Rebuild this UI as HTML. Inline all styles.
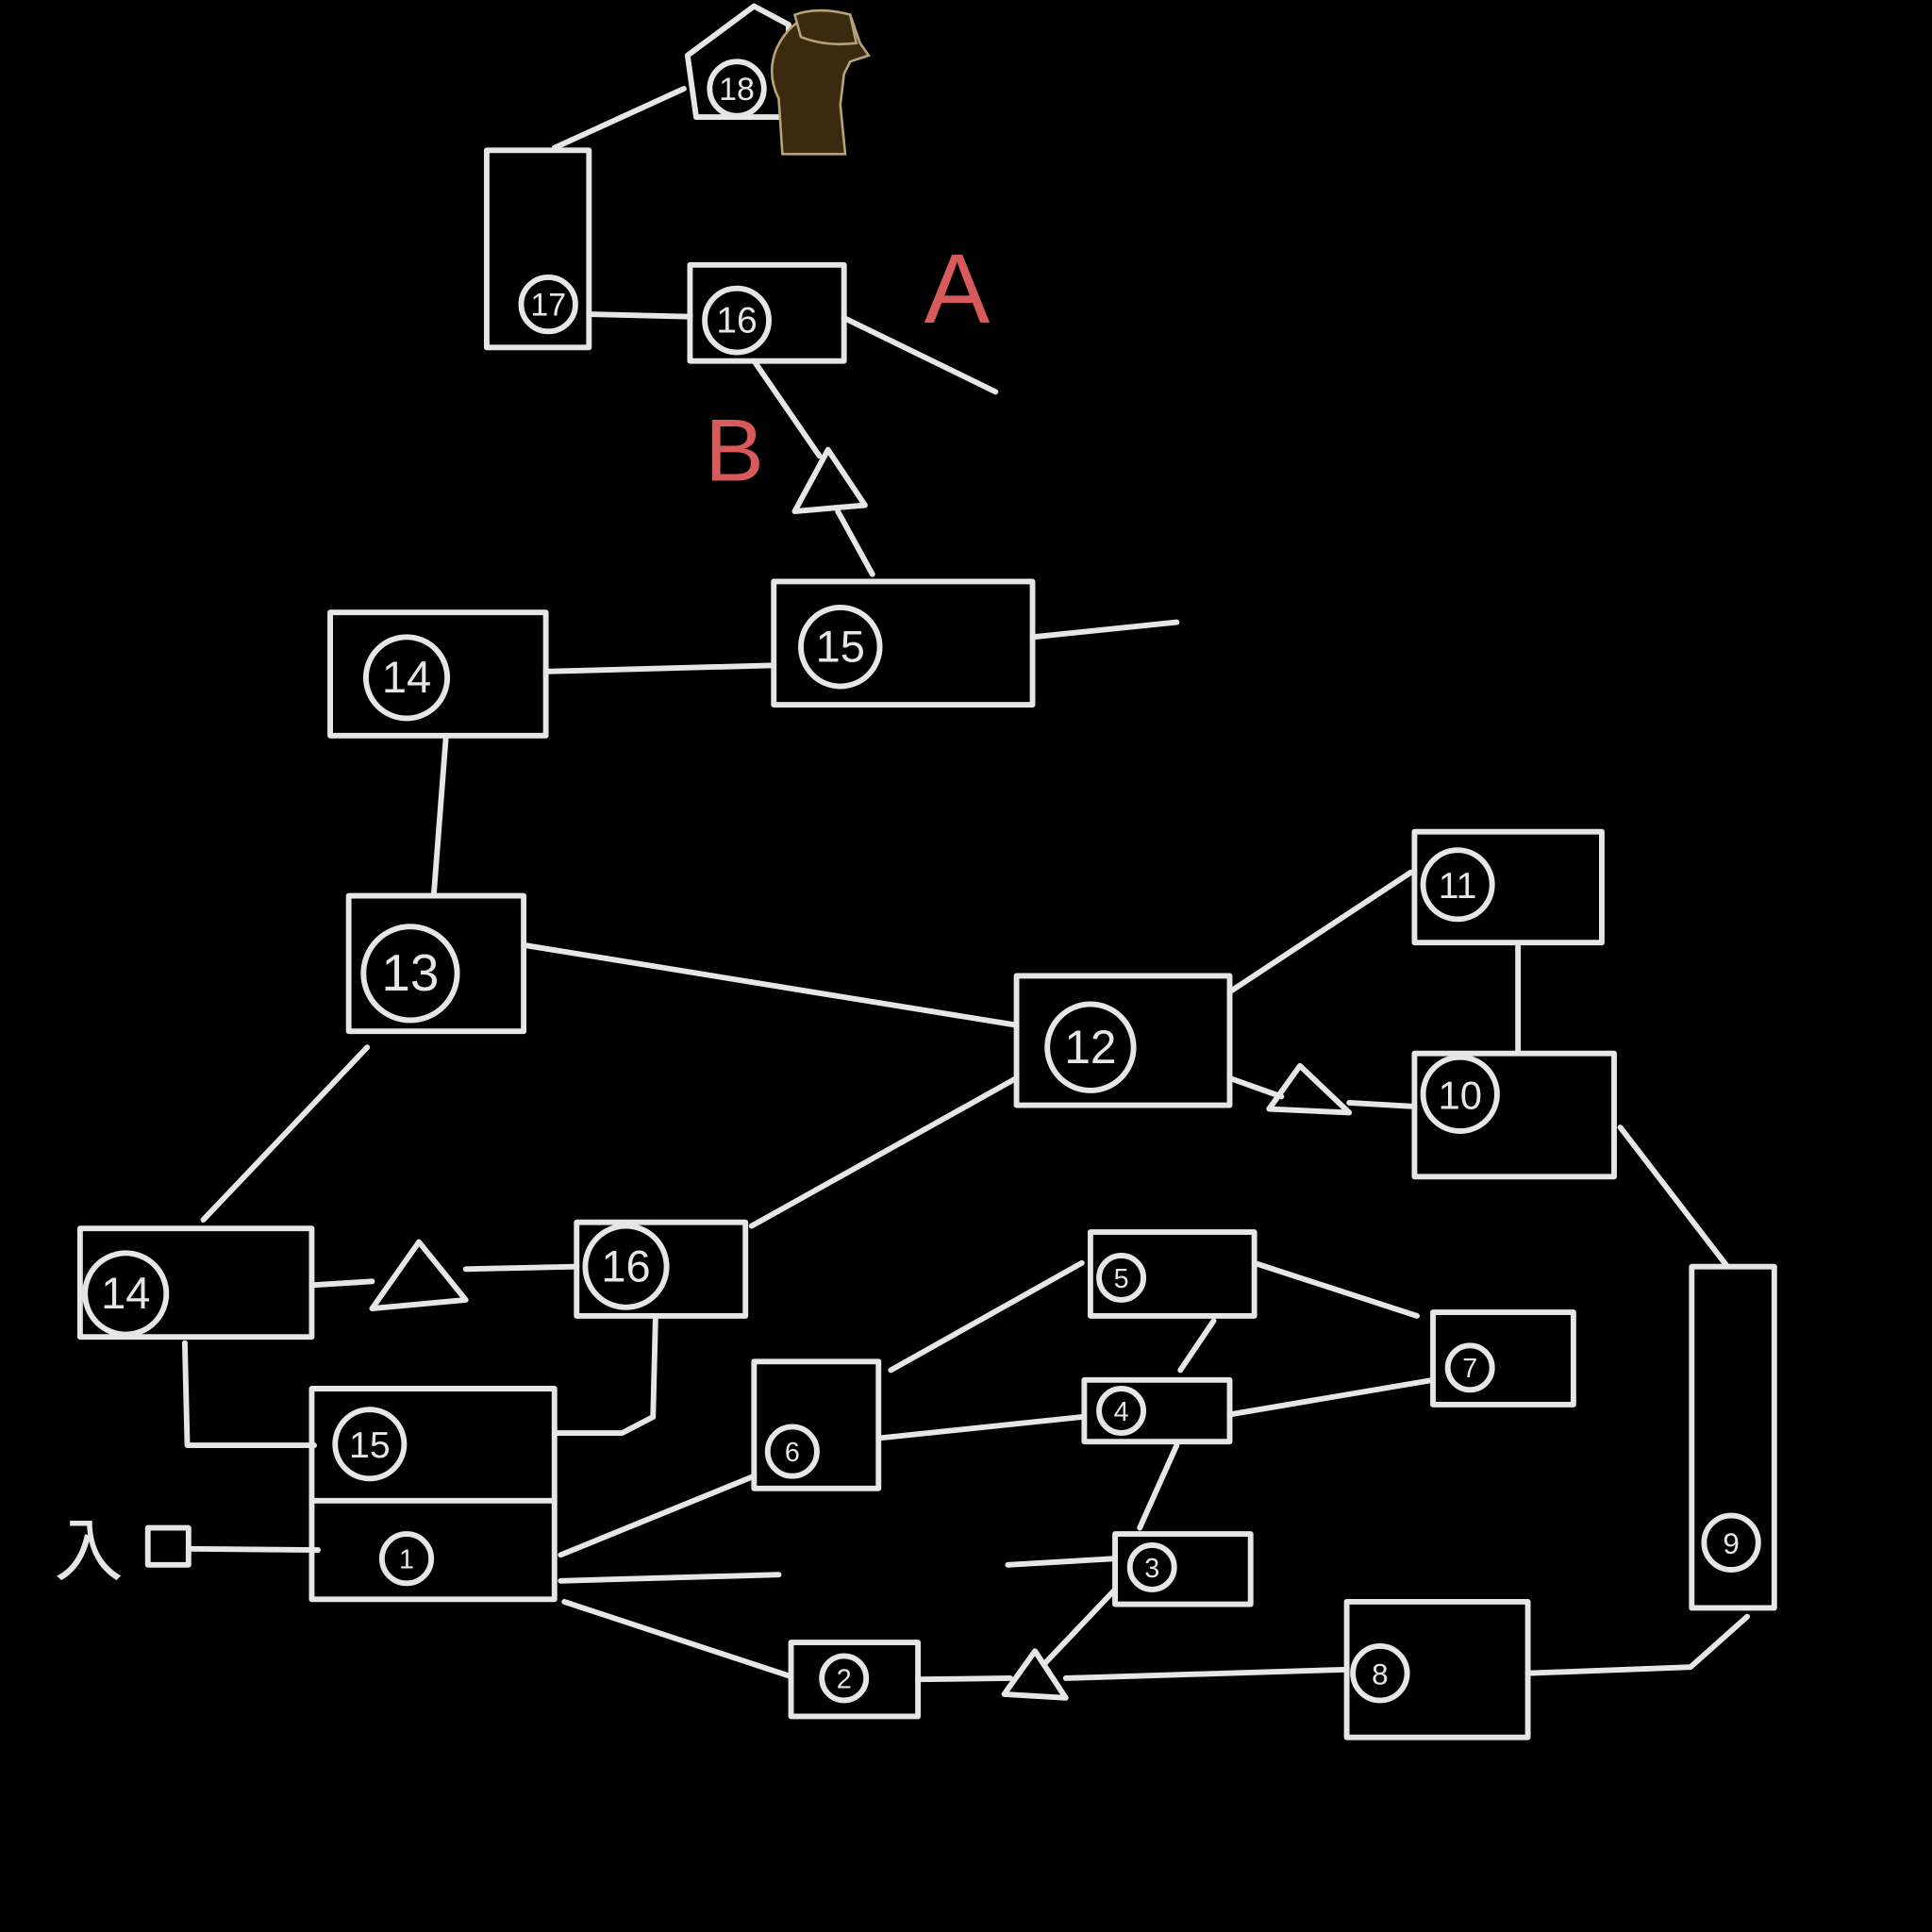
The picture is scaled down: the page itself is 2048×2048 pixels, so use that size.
<!DOCTYPE html>
<html><head><meta charset="utf-8"><style>
html,body{margin:0;padding:0;background:#000;}
svg{display:block;}
</style></head><body>
<svg width="2048" height="2048" viewBox="0 0 1568 1568" xmlns="http://www.w3.org/2000/svg">
<rect width="1568" height="1568" fill="#000"/>
<g fill="none" stroke="#e6e6e6" stroke-width="4.5" stroke-linecap="round" stroke-linejoin="round">
<!-- 18 -->
<polygon points="558,45 612,5 640,20 640,95 565,95"/>
<circle cx="598" cy="72" r="22"/>
<line x1="450" y1="120" x2="555" y2="72"/>
<!-- 17 -->
<rect x="395" y="122" width="83" height="160"/>
<circle cx="445" cy="247" r="22"/>
<line x1="478" y1="255" x2="560" y2="257"/>
<!-- 16 top -->
<rect x="560" y="215" width="125" height="78"/>
<circle cx="598" cy="260" r="26"/>
<line x1="685" y1="258" x2="808" y2="318"/>
<line x1="612" y1="293" x2="665" y2="370"/>
<polygon points="672,365 645,415 702,410"/>
<line x1="680" y1="415" x2="708" y2="466"/>
<!-- 15 top -->
<rect x="628" y="472" width="210" height="100"/>
<circle cx="682" cy="525" r="32"/>
<line x1="838" y1="517" x2="955" y2="505"/>
<!-- 14 top -->
<rect x="268" y="497" width="175" height="100"/>
<circle cx="330" cy="550" r="33"/>
<line x1="443" y1="545" x2="628" y2="540"/>
<line x1="362" y1="597" x2="352" y2="727"/>
<!-- 13 -->
<rect x="283" y="727" width="142" height="110"/>
<circle cx="333" cy="790" r="38"/>
<line x1="425" y1="767" x2="825" y2="832"/>
<!-- 12 -->
<rect x="825" y="792" width="173" height="105"/>
<circle cx="885" cy="850" r="35"/>
<!-- 11 -->
<rect x="1148" y="675" width="152" height="90"/>
<circle cx="1183" cy="718" r="28"/>
<line x1="998" y1="805" x2="1145" y2="708"/>
<line x1="1232" y1="768" x2="1232" y2="852"/>
<!-- 10 -->
<rect x="1148" y="855" width="162" height="100"/>
<circle cx="1185" cy="888" r="30"/>
<line x1="998" y1="875" x2="1040" y2="890"/>
<polygon points="1055,865 1030,900 1095,903"/>
<line x1="1095" y1="895" x2="1148" y2="898"/>
<line x1="1315" y1="915" x2="1402" y2="1028"/>
<!-- 9 -->
<rect x="1373" y="1028" width="67" height="277"/>
<circle cx="1405" cy="1252" r="22"/>
<polyline points="1418,1312 1372,1353 1240,1358"/>
<!-- 8 -->
<rect x="1093" y="1300" width="147" height="110"/>
<circle cx="1120" cy="1358" r="22"/>
<!-- 14b -->
<line x1="298" y1="850" x2="165" y2="990"/>
<rect x="65" y="997" width="188" height="88"/>
<circle cx="102" cy="1050" r="33"/>
<line x1="253" y1="1043" x2="302" y2="1040"/>
<polygon points="340,1008 302,1062 378,1055"/>
<line x1="378" y1="1030" x2="468" y2="1028"/>
<!-- 16b -->
<rect x="468" y="992" width="137" height="76"/>
<circle cx="508" cy="1028" r="33"/>
<line x1="610" y1="995" x2="825" y2="875"/>
<polyline points="150,1090 152,1173 255,1173"/>
<!-- 15b / 1 -->
<rect x="253" y="1127" width="197" height="171"/>
<line x1="253" y1="1218" x2="450" y2="1218"/>
<circle cx="300" cy="1172" r="28"/>
<circle cx="330" cy="1265" r="20"/>
<polyline points="532,1070 530,1150 505,1163 452,1163"/>
<!-- entrance -->
<rect x="120" y="1240" width="33" height="30"/>
<line x1="153" y1="1257" x2="258" y2="1258"/>
<line x1="455" y1="1262" x2="612" y2="1198"/>
<line x1="455" y1="1283" x2="632" y2="1278"/>
<line x1="458" y1="1300" x2="640" y2="1360"/>
<!-- 6 -->
<rect x="612" y="1105" width="101" height="103"/>
<circle cx="643" cy="1178" r="20"/>
<line x1="723" y1="1112" x2="878" y2="1025"/>
<line x1="715" y1="1167" x2="878" y2="1150"/>
<!-- 5 -->
<rect x="885" y="1000" width="133" height="68"/>
<circle cx="910" cy="1037" r="18"/>
<line x1="1018" y1="1025" x2="1150" y2="1068"/>
<!-- 7 -->
<rect x="1163" y="1065" width="114" height="75"/>
<circle cx="1193" cy="1110" r="18"/>
<!-- 4 -->
<rect x="880" y="1120" width="118" height="50"/>
<circle cx="910" cy="1145" r="18"/>
<line x1="998" y1="1148" x2="1163" y2="1120"/>
<line x1="985" y1="1072" x2="958" y2="1112"/>
<line x1="955" y1="1173" x2="925" y2="1240"/>
<!-- 3 -->
<rect x="905" y="1245" width="110" height="57"/>
<circle cx="935" cy="1272" r="18"/>
<line x1="818" y1="1270" x2="905" y2="1265"/>
<line x1="905" y1="1290" x2="848" y2="1350"/>
<!-- 2 -->
<rect x="642" y="1333" width="103" height="60"/>
<circle cx="685" cy="1362" r="18"/>
<line x1="745" y1="1363" x2="820" y2="1362"/>
<polygon points="840,1340 815,1375 865,1378"/>
<line x1="865" y1="1362" x2="1093" y2="1355"/>
</g>
<!-- character -->
<g fill="#3a2a10" stroke="#b8a27a" stroke-width="2">
<path d="M630,40 Q640,18 660,12 L690,12 L698,35 L705,45 L690,50 L685,60 L682,85 L686,125 L635,125 L632,80 Q622,60 630,40 Z"/>
<path d="M645,12 Q665,5 690,12 L695,35 Q670,38 650,30 Z"/>
</g>
<g font-family="Liberation Sans, sans-serif" fill="#e6e6e6" text-anchor="middle">
<text x="598" y="81" font-size="26">18</text>
<text x="445" y="256" font-size="26">17</text>
<text x="598" y="270" font-size="30">16</text>
<text x="682" y="537" font-size="36">15</text>
<text x="330" y="562" font-size="36">14</text>
<text x="333" y="804" font-size="42">13</text>
<text x="885" y="863" font-size="38">12</text>
<text x="1183" y="729" font-size="30">11</text>
<text x="1185" y="900" font-size="32">10</text>
<text x="1405" y="1261" font-size="24">9</text>
<text x="1120" y="1367" font-size="24">8</text>
<text x="102" y="1062" font-size="36">14</text>
<text x="508" y="1040" font-size="36">16</text>
<text x="300" y="1183" font-size="30">15</text>
<text x="330" y="1273" font-size="22">1</text>
<text x="643" y="1186" font-size="22">6</text>
<text x="910" y="1045" font-size="22">5</text>
<text x="1193" y="1118" font-size="22">7</text>
<text x="910" y="1153" font-size="22">4</text>
<text x="935" y="1280" font-size="22">3</text>
<text x="685" y="1370" font-size="22">2</text>
<text x="72" y="1278" font-size="56" font-family="Liberation Sans, Noto Sans CJK JP, sans-serif">入</text>
</g>
<g font-family="Liberation Sans, sans-serif" fill="#d95a5a">
<text x="750" y="262" font-size="80">A</text>
<text x="572" y="390" font-size="72">B</text>
</g>
</svg>
</body></html>
